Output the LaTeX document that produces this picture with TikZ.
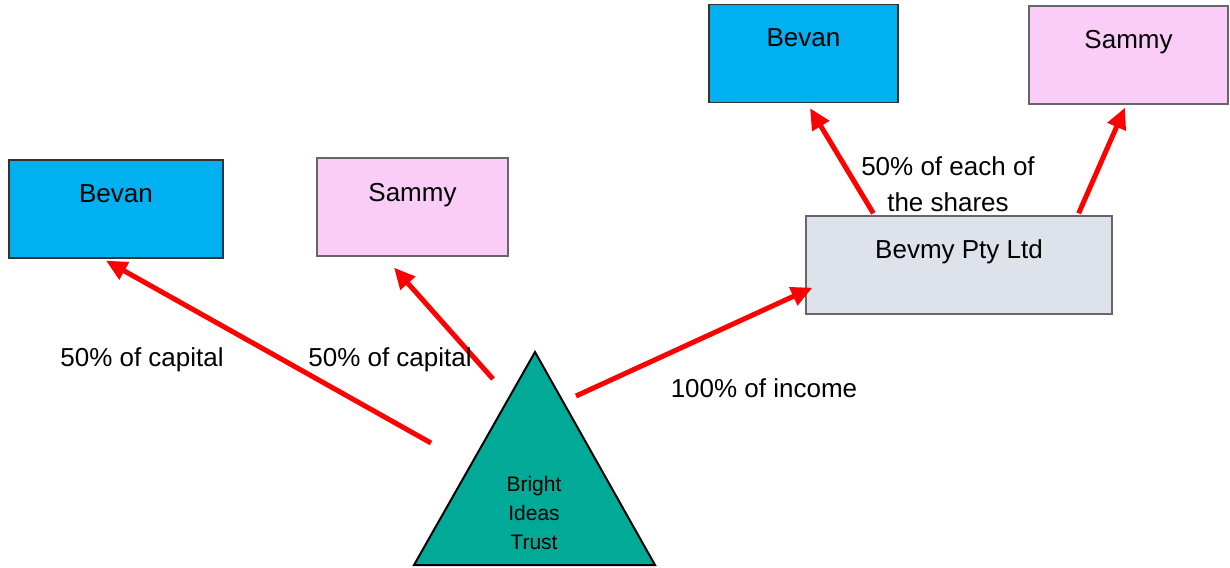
\documentclass[tikz,border=0pt]{standalone}
\usepackage{fontspec}
\setmainfont{Liberation Sans}
\usetikzlibrary{calc,arrows.meta}
\definecolor{bevanblue}{RGB}{0,176,240}
\definecolor{sammypink}{RGB}{250,204,248}
\definecolor{companygrey}{RGB}{222,226,234}
\definecolor{trustteal}{RGB}{0,170,150}
\tikzset{
  entity/.style={draw=#1, line width=1.3pt, inner sep=0pt, minimum height=98pt},
  boxtext/.style={anchor=base, inner sep=0pt, font=\fontsize{26}{32}\selectfont},
  flowlabel/.style={inner sep=0pt, font=\fontsize{26}{36}\selectfont, align=center},
  flow/.style={draw=red, line width=5pt, -{Triangle[length=21pt,width=19pt]}},
}
\begin{document}
\begin{tikzpicture}[x=1pt,y=-1pt]
\useasboundingbox (0,0) rectangle (1230,567);

% beneficiary and company boxes
\node[entity=black!80, fill=bevanblue, minimum width=214pt] (bevanL) at (116,209) {};
\node[entity=black!60, fill=sammypink, minimum width=191pt] (sammyL) at (412.5,207) {};
\node[entity=black!80, fill=bevanblue, minimum width=189pt] (bevanT) at (803.5,53.5) {};
\node[entity=black!60, fill=sammypink, minimum width=199pt] (sammyT) at (1128.5,55) {};
\node[entity=black!60, fill=companygrey, minimum width=306pt] (bevmy) at (959,265) {};

\node[boxtext] (bevanLt) at ($(bevanL.north)+(0,43)$) {Bevan};
\node[boxtext] (sammyLt) at ($(sammyL.north)+(0,44)$) {Sammy};
\node[boxtext] (bevanTt) at ($(bevanT.north)+(0,43)$) {Bevan};
\node[boxtext] (sammyTt) at ($(sammyT.north)+(0,43)$) {Sammy};
\node[boxtext] (bevmyt) at ($(bevmy.north)+(0,43)$) {Bevmy Pty Ltd};

% the trust
\coordinate (apex) at (535,352);
\coordinate (baseR) at (655,565);
\coordinate (baseL) at (414,565);
\draw[line width=2pt, fill=trustteal, line join=miter] (apex) -- (baseR) -- (baseL) -- cycle;
% the base anchor of a multi-line node sits on its last line
\node[anchor=base, inner sep=0pt, align=center, font=\fontsize{21}{29}\selectfont] (trust) at (534,549) {Bright\\Ideas\\Trust};

% flow connectors
\coordinate (s1) at (431,443);
\coordinate (s2) at (493,379);
\coordinate (s3) at (576,396);
\coordinate (s4) at ($(bevmy.north west)+(68,-2)$);
\coordinate (s5) at ($(bevmy.north east)+(-34,-2)$);
\coordinate (e1) at ($(bevanL.south)+(-10,2)$);
\coordinate (e2) at ($(sammyL.south)+(-18.5,11)$);
\coordinate (e3) at ($(bevmy.south west)+(7,-27)$);
\coordinate (e4) at ($(bevanT.south)+(6.5,5)$);
\coordinate (e5) at ($(sammyT.south)+(-3.5,3)$);
\draw[flow] (s1) -- (e1);
\draw[flow] (s2) -- (e2);
\draw[flow] (s3) -- (e3);
\draw[flow] (s4) -- (e4);
\draw[flow] (s5) -- (e5);

% connector labels
\node[flowlabel, anchor=base] (cap1) at (142,366) {50\% of capital};
\node[flowlabel, anchor=base] (cap2) at (390,366) {50\% of capital};
\node[flowlabel, anchor=base] (inc) at (764,397) {100\% of income};
\node[flowlabel, anchor=base] (shares) at (948,211) {50\% of each of\\the shares};
\end{tikzpicture}
\end{document}
